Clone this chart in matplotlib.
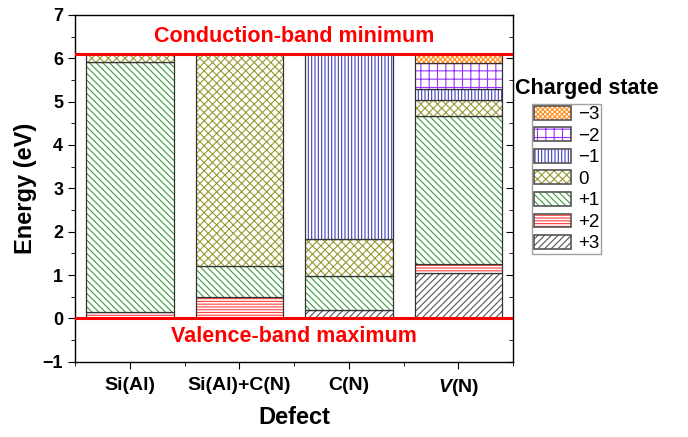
import numpy as np
import matplotlib.pyplot as plt
from matplotlib.patches import Patch
from matplotlib.legend_handler import HandlerTuple

plt.rcParams['font.family'] = ['Liberation Sans', 'DejaVu Sans']
plt.rcParams['hatch.linewidth'] = 0.8
plt.rcParams['mathtext.fontset'] = 'custom'
plt.rcParams['mathtext.rm'] = 'Liberation Sans'
plt.rcParams['mathtext.bf'] = 'Liberation Sans:bold'
plt.rcParams['mathtext.it'] = 'Liberation Sans:italic'
plt.rcParams['mathtext.bfit'] = 'Liberation Sans:bold:italic'

defects = ['Si(Al)', 'Si(Al)+C(N)', 'C(N)', r'$\mathbfit{V}$(N)']
states = ['\u22123', '\u22122', '\u22121', '0', '+1', '+2', '+3']
colors = ['#ff8c1a', '#9933ff', '#4040c0', '#999933', '#3d9c3d', '#ff4040', '#555555']
hatches = ['xxxxxxx', '++', '|||||', 'xxxx', '\\' * 5, '------', '/////']

# segments per defect: (state index, bottom, top) in eV
si_al = [(5, 0.0, 0.14), (4, 0.14, 5.92), (3, 5.92, 6.1)]
si_al_c_n = [(5, 0.0, 0.5), (4, 0.5, 1.2), (3, 1.2, 6.1)]
c_n = [(6, 0.0, 0.2), (4, 0.2, 0.97), (3, 0.97, 1.83), (2, 1.83, 6.1)]
v_n = [(6, 0.0, 1.05), (5, 1.05, 1.26), (4, 1.26, 4.66), (3, 4.66, 5.03),
       (2, 5.03, 5.29), (1, 5.29, 5.89), (0, 5.89, 6.1)]
segments = [si_al, si_al_c_n, c_n, v_n]

cbm = 6.1
vbm = 0.0

fig = plt.figure(figsize=(6.88, 4.37), dpi=100)
ax = fig.add_axes([0.109, 0.172, 0.637, 0.794])

x = np.arange(1, len(defects) + 1)
for xi, segs in zip(x, segments):
    for s, lo, hi in segs:
        ax.bar(xi, hi - lo, bottom=lo, width=0.8, color='white',
               edgecolor=colors[s], hatch=hatches[s], linewidth=0)
        ax.bar(xi, hi - lo, bottom=lo, width=0.8, fill=False,
               edgecolor='#333333', linewidth=0.9)

ax.axhline(cbm, color='#ff0000', lw=2.2, zorder=5)
ax.axhline(vbm, color='#ff0000', lw=2.2, zorder=5)
ax.text(2.5, 6.5, 'Conduction-band minimum', color='#ff0000', fontsize=15.5,
        fontweight='bold', ha='center', va='center')
ax.text(2.5, -0.42, 'Valence-band maximum', color='#ff0000', fontsize=15.5,
        fontweight='bold', ha='center', va='center')

ax.set_xlim(0.5, 4.5)
ax.set_ylim(-1, 7)
ax.set_xticks(x)
ax.set_xticklabels(defects, fontweight='bold', fontsize=14)
ax.set_xticks(np.arange(0.5, 4.6, 1.0), minor=True)
ax.set_yticks(np.arange(-1, 8))
ax.set_yticklabels(['\u22121'] + [str(v) for v in range(0, 8)],
                   fontweight='bold', fontsize=13)
ax.set_yticks(np.arange(-1, 7.1, 0.5), minor=True)
ax.tick_params(axis='y', which='both', right=True, direction='out')
ax.tick_params(axis='y', which='major', length=5)
ax.tick_params(axis='y', which='minor', length=3)
ax.tick_params(axis='x', which='major', length=5, pad=6)
ax.tick_params(axis='x', which='minor', length=3)
for sp in ax.spines.values():
    sp.set_linewidth(1.0)
# right ticks point inward
for t in ax.yaxis.get_major_ticks() + ax.yaxis.get_minor_ticks():
    t.tick2line.set_marker(0)

ax.set_ylabel('Energy (eV)', fontweight='bold', fontsize=17)
ax.set_xlabel('Defect', fontweight='bold', fontsize=17, labelpad=6)

handles = [(Patch(facecolor='white', edgecolor=c, hatch=h, linewidth=0),
            Patch(fill=False, edgecolor='#555555', linewidth=1.2))
           for c, h in zip(colors, hatches)]
fig.text(0.749, 0.797, 'Charged state', fontweight='bold', fontsize=15.5,
         ha='left', va='center')
leg = fig.legend(handles, states, loc='upper left',
                 handler_map={tuple: HandlerTuple(ndivide=1, pad=0)},
                 bbox_to_anchor=(0.773, 0.762), fontsize=13.5,
                 frameon=True, fancybox=False, edgecolor='#888888',
                 handlelength=2.0, handleheight=0.75, handletextpad=0.35,
                 labelspacing=0.22, borderpad=0.1, borderaxespad=0.0)
leg.get_frame().set_linewidth(1.0)

fig.savefig('out.png', dpi=100)
